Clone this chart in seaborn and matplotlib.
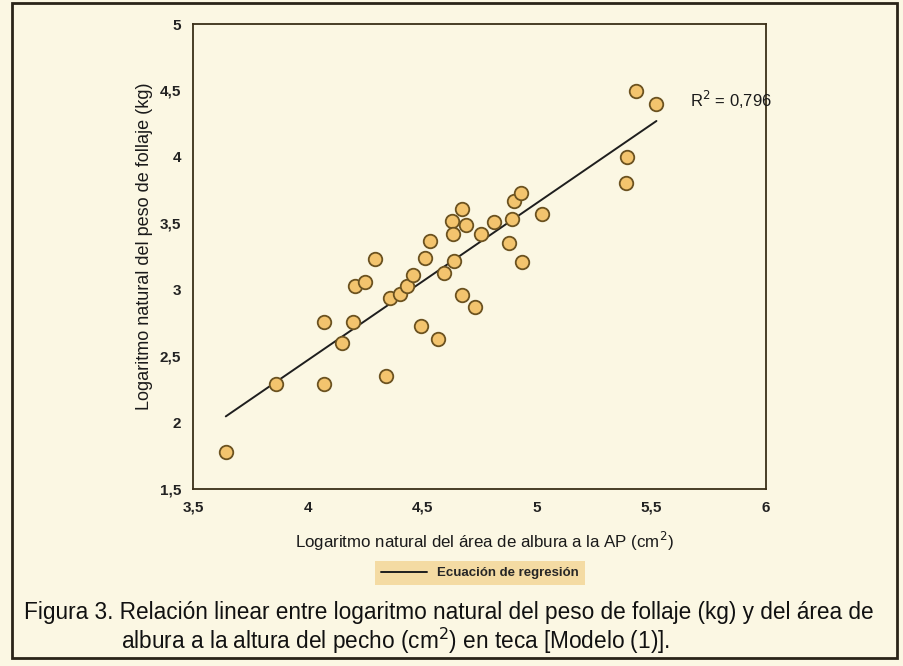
import matplotlib
matplotlib.use("Agg")
import matplotlib.pyplot as plt
import seaborn as sns
import pandas as pd
import numpy as np
from matplotlib import font_manager
from matplotlib.lines import Line2D
from matplotlib.patches import Rectangle

# ---- data ----
ln_area = [3.643, 3.860, 4.073, 4.341, 4.072, 4.200, 4.152, 4.206, 4.252, 4.296,
           4.360, 4.404, 4.434, 4.461, 4.512, 4.535, 4.496, 4.567, 4.675, 4.628,
           4.689, 4.634, 4.756, 4.813, 4.893, 4.900, 4.929, 5.023, 4.879, 4.934,
           4.638, 4.597, 4.672, 4.730, 5.433, 5.522, 5.392, 5.390]
ln_peso = [1.78, 2.29, 2.29, 2.35, 2.76, 2.76, 2.60, 3.03, 3.06, 3.233,
           2.94, 2.964, 3.026, 3.112, 3.24, 3.37, 2.725, 2.63, 3.607, 3.514,
           3.484, 3.42, 3.42, 3.507, 3.532, 3.665, 3.728, 3.569, 3.35, 3.205,
           3.213, 3.124, 2.959, 2.873, 4.497, 4.399, 4.00, 3.80]
x_ticks = [3.5, 4, 4.5, 5, 5.5, 6]
y_ticks = [1.5, 2, 2.5, 3, 3.5, 4, 4.5, 5]
r2_text = "R$^2$ = 0,796"

df = pd.DataFrame({"x": ln_area, "y": ln_peso})

sns.set_theme(style="white")
names = {f.name for f in font_manager.fontManager.ttflist}
narrow = "Liberation Sans Narrow" if "Liberation Sans Narrow" in names else "Liberation Sans"
plt.rcParams["font.family"] = [narrow, "DejaVu Sans"]

BG = "#fbf7e3"
fig = plt.figure(figsize=(9.04, 6.66), dpi=100, facecolor=BG)
ax = fig.add_axes([193/904, 1-489/666, (766-193)/904, (489-24)/666])
ax.set_facecolor(BG)

sns.regplot(data=df, x="x", y="y", scatter=False, ci=None, truncate=True,
            line_kws=dict(color="#1e1e1e", lw=1.4), ax=ax)
sns.scatterplot(data=df, x="x", y="y", s=95, color="#f3c46e",
                edgecolor="#6b5220", linewidth=1.3, ax=ax, zorder=3)

ax.set_xlim(3.5, 6)
ax.set_ylim(1.5, 5)
ax.set_xticks(x_ticks)
ax.set_yticks(y_ticks)
fmt = lambda v: (f"{v:g}").replace(".", ",")
ax.set_xticklabels([fmt(v) for v in x_ticks], fontsize=11, fontweight="bold", color="#222")
ax.set_yticklabels([fmt(v) for v in y_ticks], fontsize=11, fontweight="bold", color="#222")
ax.tick_params(direction="inout", length=9, width=1.1, color="#3a2f18", pad=4)
for sp in ax.spines.values():
    sp.set_color("#3a2f18")
    sp.set_linewidth(1.3)

ax.set_xlabel("Logaritmo natural del área de albura a la AP (cm$^2$)",
              fontsize=12.2, color="#1a1a1a")
ax.xaxis.set_label_coords((484-193)/(766-193), -(530-489)/(489-24))
ax.set_ylabel("Logaritmo natural del peso de follaje (kg)",
              fontsize=13, color="#1a1a1a")
ax.yaxis.set_label_coords(-(193-153)/(766-193), (489-246)/(489-24))

ax.text(5.67, 4.43, r2_text, fontsize=12, color="#1a1a1a", va="center", ha="left")

# legend
handle = Line2D([0], [0], color="#1e1e1e", lw=1.4)
leg = fig.legend([handle], ["Ecuación de regresión"], loc="center",
                 bbox_to_anchor=(480/904, 1-573/666), frameon=True,
                 fontsize=9.5, handlelength=3.5, borderpad=0.45,
                 fancybox=False)
leg.get_frame().set_facecolor("#f3d594")
leg.get_frame().set_edgecolor("none")
for t in leg.get_texts():
    t.set_fontweight("bold")

# caption
cap_font = ["Liberation Sans", "DejaVu Sans"]
fig.text(24/904, 1-613/666, "Figura 3. Relación linear entre logaritmo natural del peso de follaje (kg) y del área de",
         fontsize=16.3, family=cap_font, va="center", ha="left", color="#111")
fig.text(121/904, 1-641/666, "albura a la altura del pecho (cm$^2$) en teca [Modelo (1)].",
         fontsize=16.3, family=cap_font, va="center", ha="left", color="#111")

# outer frame
fig.patches.append(Rectangle((12/904, 1-658/666), (897-12)/904, (658-3)/666,
                             transform=fig.transFigure, fill=False,
                             edgecolor="#2a2418", lw=2))

fig.savefig("out.png", dpi=100, facecolor=BG)
